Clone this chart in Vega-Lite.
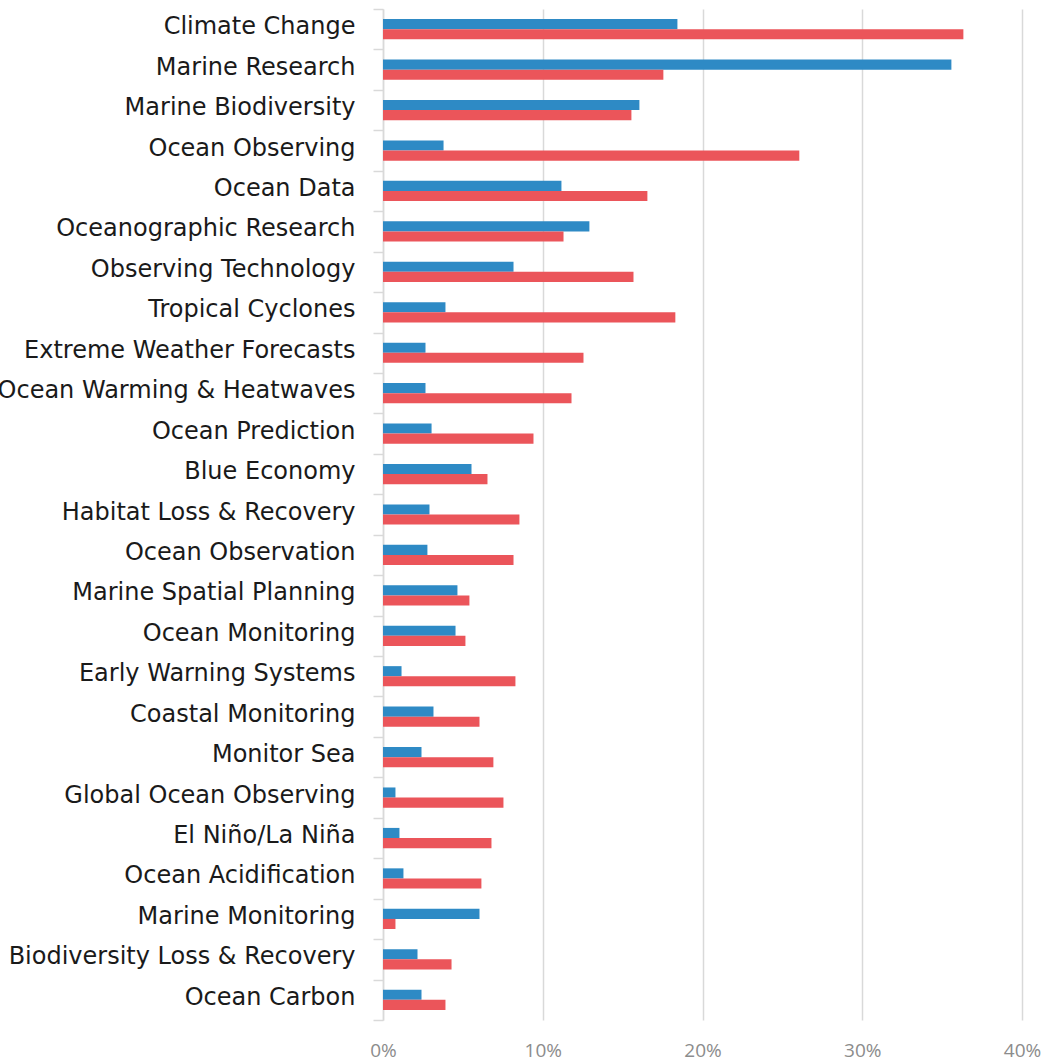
{
  "$schema": "https://vega.github.io/schema/vega-lite/v6.json",
  "autosize": {"type": "none"},
  "width": 639,
  "height": 1011,
  "padding": {"left": 383, "top": 9, "right": 26, "bottom": 42},
  "background": "white",
  "config": {"view": {"stroke": null}},
  "data": {"values": [
    {"topic": "Climate Change", "series": "A", "value": 18.43},
    {"topic": "Climate Change", "series": "B", "value": 36.33},
    {"topic": "Marine Research", "series": "A", "value": 35.58},
    {"topic": "Marine Research", "series": "B", "value": 17.55},
    {"topic": "Marine Biodiversity", "series": "A", "value": 16.05},
    {"topic": "Marine Biodiversity", "series": "B", "value": 15.55},
    {"topic": "Ocean Observing", "series": "A", "value": 3.79},
    {"topic": "Ocean Observing", "series": "B", "value": 26.06},
    {"topic": "Ocean Data", "series": "A", "value": 11.17},
    {"topic": "Ocean Data", "series": "B", "value": 16.55},
    {"topic": "Oceanographic Research", "series": "A", "value": 12.92},
    {"topic": "Oceanographic Research", "series": "B", "value": 11.3},
    {"topic": "Observing Technology", "series": "A", "value": 8.17},
    {"topic": "Observing Technology", "series": "B", "value": 15.68},
    {"topic": "Tropical Cyclones", "series": "A", "value": 3.91},
    {"topic": "Tropical Cyclones", "series": "B", "value": 18.3},
    {"topic": "Extreme Weather Forecasts", "series": "A", "value": 2.66},
    {"topic": "Extreme Weather Forecasts", "series": "B", "value": 12.55},
    {"topic": "Ocean Warming & Heatwaves", "series": "A", "value": 2.66},
    {"topic": "Ocean Warming & Heatwaves", "series": "B", "value": 11.8},
    {"topic": "Ocean Prediction", "series": "A", "value": 3.04},
    {"topic": "Ocean Prediction", "series": "B", "value": 9.42},
    {"topic": "Blue Economy", "series": "A", "value": 5.54},
    {"topic": "Blue Economy", "series": "B", "value": 6.54},
    {"topic": "Habitat Loss & Recovery", "series": "A", "value": 2.91},
    {"topic": "Habitat Loss & Recovery", "series": "B", "value": 8.54},
    {"topic": "Ocean Observation", "series": "A", "value": 2.78},
    {"topic": "Ocean Observation", "series": "B", "value": 8.17},
    {"topic": "Marine Spatial Planning", "series": "A", "value": 4.66},
    {"topic": "Marine Spatial Planning", "series": "B", "value": 5.41},
    {"topic": "Ocean Monitoring", "series": "A", "value": 4.54},
    {"topic": "Ocean Monitoring", "series": "B", "value": 5.16},
    {"topic": "Early Warning Systems", "series": "A", "value": 1.16},
    {"topic": "Early Warning Systems", "series": "B", "value": 8.29},
    {"topic": "Coastal Monitoring", "series": "A", "value": 3.16},
    {"topic": "Coastal Monitoring", "series": "B", "value": 6.04},
    {"topic": "Monitor Sea", "series": "A", "value": 2.41},
    {"topic": "Monitor Sea", "series": "B", "value": 6.91},
    {"topic": "Global Ocean Observing", "series": "A", "value": 0.78},
    {"topic": "Global Ocean Observing", "series": "B", "value": 7.54},
    {"topic": "El Niño/La Niña", "series": "A", "value": 1.03},
    {"topic": "El Niño/La Niña", "series": "B", "value": 6.79},
    {"topic": "Ocean Acidification", "series": "A", "value": 1.28},
    {"topic": "Ocean Acidification", "series": "B", "value": 6.16},
    {"topic": "Marine Monitoring", "series": "A", "value": 6.04},
    {"topic": "Marine Monitoring", "series": "B", "value": 0.78},
    {"topic": "Biodiversity Loss & Recovery", "series": "A", "value": 2.16},
    {"topic": "Biodiversity Loss & Recovery", "series": "B", "value": 4.29},
    {"topic": "Ocean Carbon", "series": "A", "value": 2.41},
    {"topic": "Ocean Carbon", "series": "B", "value": 3.91}
  ]},
  "layer": [
    {
      "mark": {"type": "point", "opacity": 0},
      "encoding": {
        "y": {
          "field": "topic", "type": "nominal", "sort": null,
          "scale": {"paddingInner": 0, "paddingOuter": 0},
          "axis": {
            "title": null, "orient": "left", "labels": false,
            "tickBand": "extent",
            "ticks": true, "tickSize": 10, "tickColor": "#d9d9d9", "tickWidth": 1.5,
            "domain": true, "domainColor": "#d9d9d9", "domainWidth": 1.5
          }
        }
      }
    },
    {
      "mark": {"type": "bar"},
      "encoding": {
        "y": {
          "field": "topic", "type": "nominal", "sort": null,
          "scale": {"paddingInner": 0.5, "paddingOuter": 0.25},
          "axis": {
            "title": null, "orient": "left",
            "ticks": false, "domain": false,
            "labelPadding": 28, "labelOffset": -2, "labelFont": "DejaVu Sans", "labelFontSize": 24,
            "labelColor": "#1a1a1a", "labelLimit": 0
          }
        },
        "x": {
          "field": "value", "type": "quantitative",
          "scale": {"domain": [0, 40], "nice": false},
          "axis": {
            "title": null, "values": [0, 10, 20, 30, 40],
            "labelExpr": "datum.value + '%'",
            "domain": false, "ticks": false, "labelFlush": false,
            "grid": true, "gridColor": "#d9d9d9", "gridWidth": 1.5,
            "labelPadding": 21, "labelFont": "Open Sans", "labelFontSize": 19,
            "labelColor": "#8c8c8c"
          }
        },
        "yOffset": {"field": "series", "type": "nominal", "sort": ["A", "B"]},
        "color": {
          "field": "series", "type": "nominal",
          "scale": {"domain": ["A", "B"], "range": ["#2e8ac5", "#eb555a"]},
          "legend": null
        }
      }
    }
  ],
  "resolve": {"scale": {"y": "independent"}, "axis": {"y": "independent"}}
}
